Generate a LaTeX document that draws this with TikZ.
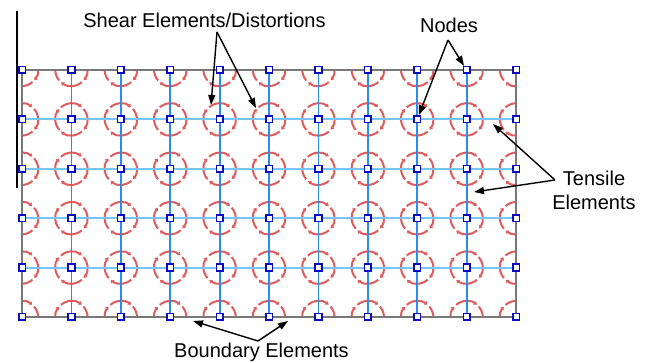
\documentclass[tikz,border=0pt]{standalone}
\usepackage{fontspec}
\setmainfont{Liberation Sans}
\usetikzlibrary{arrows.meta,calc}
\definecolor{vblue}{RGB}{40,140,240}
\definecolor{hblue}{RGB}{120,195,250}
\definecolor{nblue}{RGB}{10,10,190}
\definecolor{rarc}{RGB}{222,92,92}
\definecolor{bgray}{RGB}{120,120,120}
\begin{document}
\begin{tikzpicture}[x=1pt,y=-1pt,
  gridnode/.style={draw=nblue,fill=white,line width=1.6pt,minimum size=6.6pt,inner sep=0pt,rectangle},
  vline/.style={vblue,line width=1.8pt},
  hline/.style={hblue,line width=2pt},
  bline/.style={bgray,line width=1.8pt},
  distort/.style={rarc,line width=2pt,-{Triangle[length=3pt,width=4.2pt]}},
  callout/.style={black,line width=1.4pt,-{Triangle[length=10pt,width=7pt]}},
  lab/.style={font=\fontsize{20}{24.5}\selectfont,inner sep=0pt,anchor=base},
  lab2/.style={font=\fontsize{20}{24.5}\selectfont,inner sep=0pt,align=center,anchor=base}]
\useasboundingbox (0,0) rectangle (649,363);
% coordinates
\foreach \i in {0,...,10}{
  \foreach \j in {0,...,5}{
    \coordinate (c-\i-\j) at ({22+49.4*\i},{70+49.4*\j});
  }
}
% distortion arcs
\begin{scope}
\clip (c-0-0) rectangle (c-10-5);
\foreach \i in {0,...,10}{
  \foreach \j in {0,...,5}{
    \foreach \a in {0,90,180,270}{
      \draw[distort] ($(c-\i-\j)+({\a-41}:16)$) arc[start angle={\a-41},end angle={\a+40},radius=16];
    }
  }
}
\end{scope}
% tensile elements
\foreach \j in {1,...,4}{ \draw[hline] (c-0-\j) -- (c-10-\j); }
\foreach \i in {1,...,9}{ \draw[vline] (c-\i-0) -- (c-\i-5); }
% boundary elements
\draw[bline] (c-0-0) -- (c-10-0) -- (c-10-5) -- (c-0-5) -- cycle;
% nodes
\foreach \i in {0,...,10}{
  \foreach \j in {0,...,5}{
    \node[gridnode] (n-\i-\j) at (c-\i-\j) {};
  }
}
% left stray line
\coordinate (sl1) at (17,11);
\coordinate (sl2) at (17,188);
\draw[black,line width=1.2pt] (sl1) -- (sl2);
% labels
\node[lab] (shear) at (204.5,28) {Shear Elements/Distortions};
\node[lab] (nodes) at (449,33) {Nodes};
\node[lab] (tens1) at (594,185.5) {Tensile};
\node[lab] (tens2) at (594,210) {Elements};
\node[lab] (bound) at (261.5,358) {Boundary Elements};
% callouts
\coordinate (sh0) at (217,32);
\coordinate (sh1) at (211,105);
\coordinate (sh2) at (256,108);
\draw[callout] (sh0) -- (sh1);
\draw[callout] (sh0) -- (sh2);
\coordinate (nd0) at (448,40);
\draw[callout] (nd0) -- (n-9-0);
\draw[callout] (nd0) -- (n-8-1);
\coordinate (te0) at (555,180);
\coordinate (te1) at (493,124);
\coordinate (te2) at (474,192);
\draw[callout] (te0) -- (te1);
\draw[callout] (te0) -- (te2);
\coordinate (bo0) at (258,341);
\coordinate (bo1) at (193,321);
\coordinate (bo2) at (288,321);
\draw[callout] (bo0) -- (bo1);
\draw[callout] (bo0) -- (bo2);
\end{tikzpicture}
\end{document}
